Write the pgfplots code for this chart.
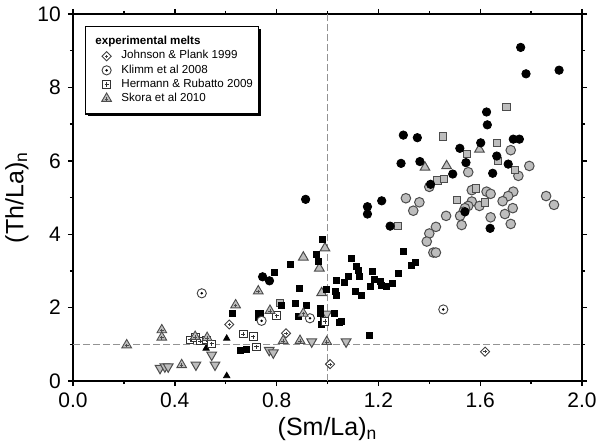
\documentclass[border=0pt]{standalone}
\usepackage{fontspec}
\setmainfont{Liberation Sans}
\usepackage{pgfplots}
\pgfplotsset{compat=1.18}
\usetikzlibrary{calc,shadows}

% open marks with a small cross or dot in the middle
\pgfdeclareplotmark{dplus}{%
  \pgfpathmoveto{\pgfqpoint{0pt}{1.3\pgfplotmarksize}}%
  \pgfpathlineto{\pgfqpoint{1.3\pgfplotmarksize}{0pt}}%
  \pgfpathlineto{\pgfqpoint{0pt}{-1.3\pgfplotmarksize}}%
  \pgfpathlineto{\pgfqpoint{-1.3\pgfplotmarksize}{0pt}}%
  \pgfpathclose\pgfusepathqfillstroke
  \pgfpathmoveto{\pgfqpoint{-0.45\pgfplotmarksize}{0pt}}%
  \pgfpathlineto{\pgfqpoint{0.45\pgfplotmarksize}{0pt}}%
  \pgfpathmoveto{\pgfqpoint{0pt}{-0.45\pgfplotmarksize}}%
  \pgfpathlineto{\pgfqpoint{0pt}{0.45\pgfplotmarksize}}%
  \pgfusepathqstroke}
\pgfdeclareplotmark{cdot}{%
  \pgfpathcircle{\pgfpointorigin}{\pgfplotmarksize}\pgfusepathqfillstroke
  \pgfscope\pgfsetfillcolor{black}%
  \pgfpathcircle{\pgfpointorigin}{0.3\pgfplotmarksize}\pgfusepathqfill
  \endpgfscope}
\pgfdeclareplotmark{splus}{%
  \pgfpathrectangle{\pgfqpoint{-\pgfplotmarksize}{-\pgfplotmarksize}}{\pgfqpoint{2\pgfplotmarksize}{2\pgfplotmarksize}}%
  \pgfusepathqfillstroke
  \pgfpathmoveto{\pgfqpoint{-0.55\pgfplotmarksize}{0pt}}%
  \pgfpathlineto{\pgfqpoint{0.55\pgfplotmarksize}{0pt}}%
  \pgfpathmoveto{\pgfqpoint{0pt}{-0.55\pgfplotmarksize}}%
  \pgfpathlineto{\pgfqpoint{0pt}{0.55\pgfplotmarksize}}%
  \pgfusepathqstroke}
\pgfdeclareplotmark{tplus}{%
  \pgfpathmoveto{\pgfqpointpolar{90}{1.3\pgfplotmarksize}}%
  \pgfpathlineto{\pgfqpointpolar{210}{1.3\pgfplotmarksize}}%
  \pgfpathlineto{\pgfqpointpolar{330}{1.3\pgfplotmarksize}}%
  \pgfpathclose\pgfusepathqfillstroke
  \pgfpathmoveto{\pgfqpoint{-0.42\pgfplotmarksize}{-0.1\pgfplotmarksize}}%
  \pgfpathlineto{\pgfqpoint{0.42\pgfplotmarksize}{-0.1\pgfplotmarksize}}%
  \pgfpathmoveto{\pgfqpoint{0pt}{-0.52\pgfplotmarksize}}%
  \pgfpathlineto{\pgfqpoint{0pt}{0.32\pgfplotmarksize}}%
  \pgfusepathqstroke}

% legend symbol with fixed room left and right of it (pgf path, so the
% legend's shadow preaction does not touch it)
\pgfplotsset{limg/.style={legend image code/.code={%
  \pgfpathrectangle{\pgfqpoint{-8.4pt}{-2.9pt}}{\pgfqpoint{15.2pt}{5.8pt}}\pgfusepath{}%
  \draw[##1] plot coordinates {(0pt,0pt)};}}}

\begin{document}
\begin{tikzpicture}
\begin{axis}[
    name=ax, scale only axis,
    width=254.5pt, height=183.5pt,
    xmin=0, xmax=2, ymin=0, ymax=10,
    xtick={0,0.4,0.8,1.2,1.6,2.0},
    minor xtick={0.2,0.6,1.0,1.4,1.8},
    ytick={0,2,4,6,8,10},
    minor ytick={1,3,5,7,9},
    tick align=outside,
    major tick length=2.6pt, minor tick length=1.6pt,
    tick style={black, line width=0.7pt},
    axis line style={line width=0.9pt},
    /pgf/number format/assume math mode=true,
    xticklabel style={/pgf/number format/.cd, fixed, fixed zerofill, precision=1},
    tick label style={font=\fontsize{10.5}{12}\selectfont},
    label style={font=\fontsize{12.5}{14}\selectfont},
    xlabel={(Sm/La)\textsubscript{n}},
    ylabel={(Th/La)\textsubscript{n}},
    xlabel style={yshift=2pt},
    ylabel style={yshift=-2.5pt},
    legend style={at={(0.024,0.967)}, anchor=north west,
        draw=black, line width=0.6pt, fill=white,
        drop shadow={shadow xshift=1.2pt, shadow yshift=-1.2pt, fill=black, opacity=1},
        font=\fontsize{5.8}{7}\selectfont,
        row sep=0.15pt, column sep=0pt, inner xsep=2pt, inner ysep=4.25pt,
        nodes={inner sep=0.6pt}},
    legend cell align=left,
]
% reference lines
\addplot[forget plot, gray!85, line width=0.6pt, dash pattern=on 3.3pt off 1.7pt] coordinates {(1,0) (1,10)};
\addplot[forget plot, gray!85, line width=0.6pt, dash pattern=on 3.3pt off 1.7pt] coordinates {(0,1) (2,1)};

% grey circles
\addplot[forget plot, only marks, mark=*, mark size=2.4pt, mark options={fill=gray!52, draw=black!70, line width=0.5pt}] coordinates {
(1.308,4.98) (1.361,4.87) (1.337,4.64) (1.466,4.50) (1.426,4.20) (1.400,4.02) (1.390,3.80) (1.416,3.50) (1.426,3.50)
(1.400,5.29) (1.553,5.69) (1.720,6.29) (1.793,5.86) (1.750,5.59)
(1.567,5.20) (1.625,5.16) (1.641,5.10) (1.730,5.16) (1.710,5.04) (1.688,4.90) (1.859,5.04) (1.890,4.80)
(1.567,4.89) (1.553,4.77) (1.540,4.71) (1.534,4.61) (1.597,4.77)
(1.521,4.50) (1.527,4.25) (1.728,4.71) (1.697,4.55) (1.720,4.28) (1.641,4.46)
};
% grey squares
\addplot[forget plot, only marks, mark=square*, mark size=1.85pt, mark options={fill=gray!52, draw=black!70, line width=0.5pt}] coordinates {
(1.278,4.22) (1.432,5.46) (1.458,5.50) (1.453,6.66) (1.547,6.19) (1.667,6.48) (1.671,6.00) (1.704,7.46)
(1.737,5.75) (1.583,5.25) (1.510,4.93) (1.619,4.86) (0.813,2.13)
};
% grey triangles
\addplot[forget plot, only marks, mark=triangle*, mark size=2.8pt, mark options={fill=gray!52, draw=black!70, line width=0.5pt}] coordinates {
(1.383,5.82) (1.468,5.86) (1.597,6.31) (0.905,3.37) (0.968,3.07) (0.990,3.62) (0.977,2.40)
};
% grey inverted triangles
\addplot[forget plot, only marks, mark=triangle*, mark size=2.8pt, mark options={rotate=180, fill=gray!52, draw=black!70, line width=0.5pt}] coordinates {
(0.342,0.35) (0.361,0.39) (0.374,0.39) (0.483,0.44) (0.545,0.71) (0.558,0.44)
(0.771,0.84) (0.787,0.77) (0.938,1.07) (1.073,1.07) (0.997,1.83)
};
% black squares
\addplot[forget plot, only marks, mark=square*, mark size=1.5pt, black] coordinates {
(0.626,1.84) (0.656,0.83) (0.683,0.87) (0.730,1.85) (0.735,1.84) (0.730,1.72)
(0.790,2.95) (0.820,2.07) (0.855,3.18) (0.872,2.12) (0.888,2.53) (0.885,1.77) (0.918,2.07)
(0.957,3.46) (0.964,3.25) (0.980,3.86) (0.994,2.50) (0.971,1.98) (0.971,1.83) (0.984,1.66) (0.977,1.53)
(1.029,1.84) (1.046,1.59) (1.056,1.62) (1.030,2.43) (1.033,2.32) (1.036,2.73) (1.065,2.69) (1.084,2.86)
(1.095,3.34) (1.115,3.11) (1.121,3.02) (1.125,2.86) (1.108,2.43) (1.133,2.32) (1.167,2.57) (1.178,2.98)
(1.184,2.78) (1.206,2.72) (1.213,2.60) (1.230,2.57) (1.255,2.66) (1.277,2.93) (1.163,1.23)
(1.300,3.52) (1.344,3.22) (1.331,3.16)
};
% black circles
\addplot[forget plot, only marks, mark=*, mark size=2.1pt, black] coordinates {
(0.914,4.95) (1.157,4.75) (1.157,4.55) (1.213,4.91) (1.246,4.22) (1.289,5.93) (1.363,5.98)
(1.298,6.70) (1.353,6.63) (1.405,5.36) (1.520,6.34) (1.544,5.95) (1.492,5.64) (1.602,6.49)
(1.625,7.33) (1.628,6.98) (1.665,6.13) (1.710,5.91) (1.649,5.66) (1.730,6.59) (1.754,6.59)
(1.759,9.09) (1.780,8.37) (1.910,8.47) (1.540,4.61) (1.639,4.16) (0.745,2.84) (0.772,2.73)
};
% small black triangles
\addplot[forget plot, only marks, mark=triangle*, mark size=1.8pt, black] coordinates {
(0.523,0.89) (0.604,1.16) (0.604,0.14)
};

\addlegendimage{empty legend}
\addlegendentry{\hspace*{-13pt}\textbf{experimental melts}\rule[-5.9pt]{0pt}{4.3pt}}
% Johnson & Plank 1999
\addplot[only marks, limg, mark=dplus, mark size=1.75pt, mark options={fill=white, draw=black!75, line width=0.45pt}] coordinates {
(0.614,1.54) (0.837,1.30) (1.010,0.46) (1.619,0.80)
};
\addlegendentry{Johnson \& Plank 1999}
% Klimm et al 2008
\addplot[only marks, limg, mark=cdot, mark size=2.3pt, mark options={fill=white, draw=black!75, line width=0.45pt}] coordinates {
(0.506,2.39) (0.741,1.64) (0.931,1.71) (1.455,1.95)
};
\addlegendentry{Klimm et al 2008}
% Hermann & Rubatto 2009
\addplot[only marks, limg, mark=splus, mark size=1.9pt, mark options={fill=white, draw=black!80, line width=0.45pt}] coordinates {
(0.460,1.12) (0.480,1.19) (0.500,1.09) (0.525,1.12) (0.545,1.01) (0.669,1.28) (0.708,1.21)
(0.721,0.93) (0.800,1.78) (0.990,1.62)
};
\addlegendentry{Hermann \& Rubatto 2009}
% Skora et al 2010
\addplot[only marks, limg, mark=tplus, mark size=2.15pt, mark options={fill=gray!52, draw=black!70, line width=0.45pt}] coordinates {
(0.211,0.98) (0.349,1.39) (0.349,1.19) (0.427,0.44) (0.480,1.21) (0.527,1.18) (0.639,2.07)
(0.728,2.45) (0.774,1.92) (0.905,1.84) (0.826,1.10) (0.892,1.10) (0.997,1.07)
};
\addlegendentry{Skora et al 2010}
\end{axis}
\pgfresetboundingbox
\path ($(ax.south west)+(-36.5pt,-30pt)$) rectangle ($(ax.north east)+(13.5pt,7pt)$);
\end{tikzpicture}
\end{document}
